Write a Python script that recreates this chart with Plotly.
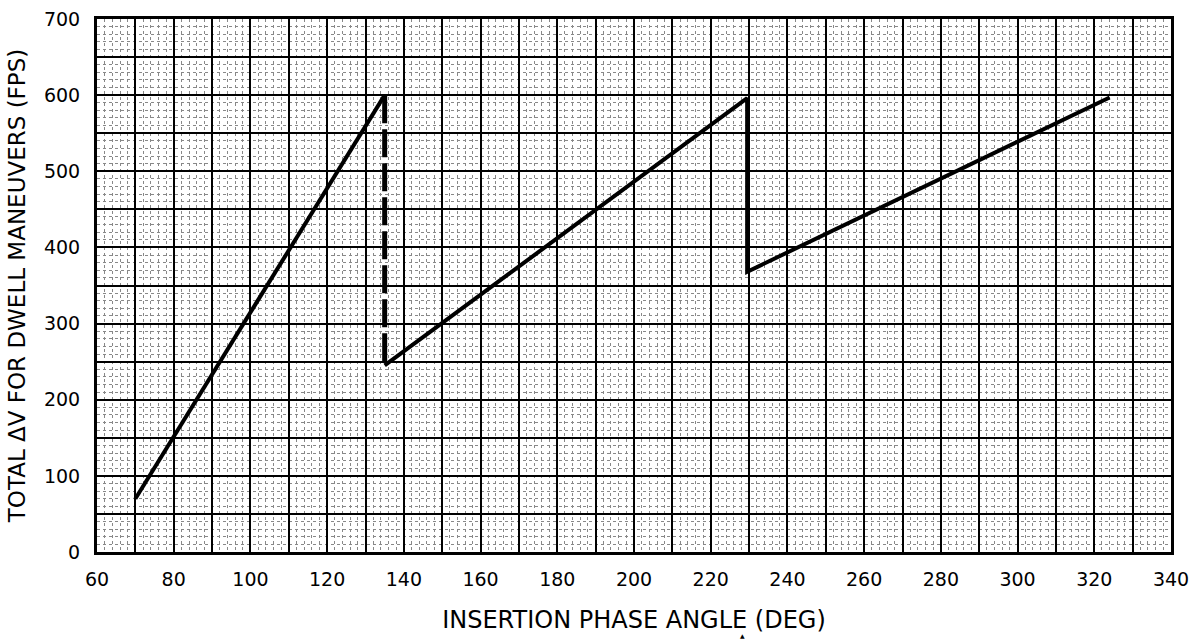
import plotly.graph_objects as go

# ---- data ----
seg1_x = [70, 135]
seg1_y = [70, 600]
drop1_x = [135, 135]
drop1_y = [600, 245]
seg2_x = [135, 229.5, 229.5, 324]
seg2_y = [245, 596, 368, 597]

x_ticks = list(range(60, 341, 10))
x_labels = [str(v) if v % 20 == 0 else "" for v in x_ticks]
y_ticks = list(range(0, 701, 50))
y_labels = [str(v) if v % 100 == 0 else "" for v in y_ticks]

FONT = "DejaVu Sans"

fig = go.Figure()
fig.add_trace(go.Scatter(x=seg1_x, y=seg1_y, mode="lines",
                         line=dict(color="black", width=4), showlegend=False))
fig.add_trace(go.Scatter(x=drop1_x, y=drop1_y, mode="lines",
                         line=dict(color="black", width=5, dash="28px,6px"), showlegend=False))
fig.add_trace(go.Scatter(x=seg2_x, y=seg2_y, mode="lines",
                         line=dict(color="black", width=4), showlegend=False))

fig.add_annotation(text="▲", x=0.6006, y=-0.165, xref="paper", yref="paper",
                   yanchor="bottom", borderpad=0,
                   showarrow=False, font=dict(size=6, color="black"))

common = dict(showline=True, linecolor="black", linewidth=3, mirror=True,
              showgrid=True, gridcolor="black", gridwidth=1.5,
              ticks="", zeroline=False,
              tickfont=dict(family=FONT, size=19, color="black"))

fig.update_xaxes(range=[60, 340], tickmode="array", tickvals=x_ticks, ticktext=x_labels,
                 ticklabelstandoff=8,
                 minor=dict(dtick=2, showgrid=True, gridcolor="#888888", griddash="dot", gridwidth=1),
                 title=dict(text="INSERTION PHASE ANGLE (DEG)", font=dict(family=FONT, size=24, color="black"),
                            standoff=23),
                 **common)
fig.update_yaxes(range=[0, 700], tickmode="array", tickvals=y_ticks, ticktext=y_labels,
                 ticklabelstandoff=10,
                 minor=dict(dtick=10, showgrid=True, gridcolor="#888888", griddash="dot", gridwidth=1),
                 title=dict(text="TOTAL ΔV FOR DWELL MANEUVERS (FPS)", font=dict(family=FONT, size=23, color="black"),
                            standoff=12),
                 **common)

fig.update_layout(width=1192, height=640,
                  margin=dict(l=97, r=21, t=19, b=88, autoexpand=False),
                  paper_bgcolor="white", plot_bgcolor="white",
                  font=dict(family=FONT, color="black"))

fig.write_html("out.html", config={"displayModeBar": False},
               post_script="document.body.style.margin='0';")
